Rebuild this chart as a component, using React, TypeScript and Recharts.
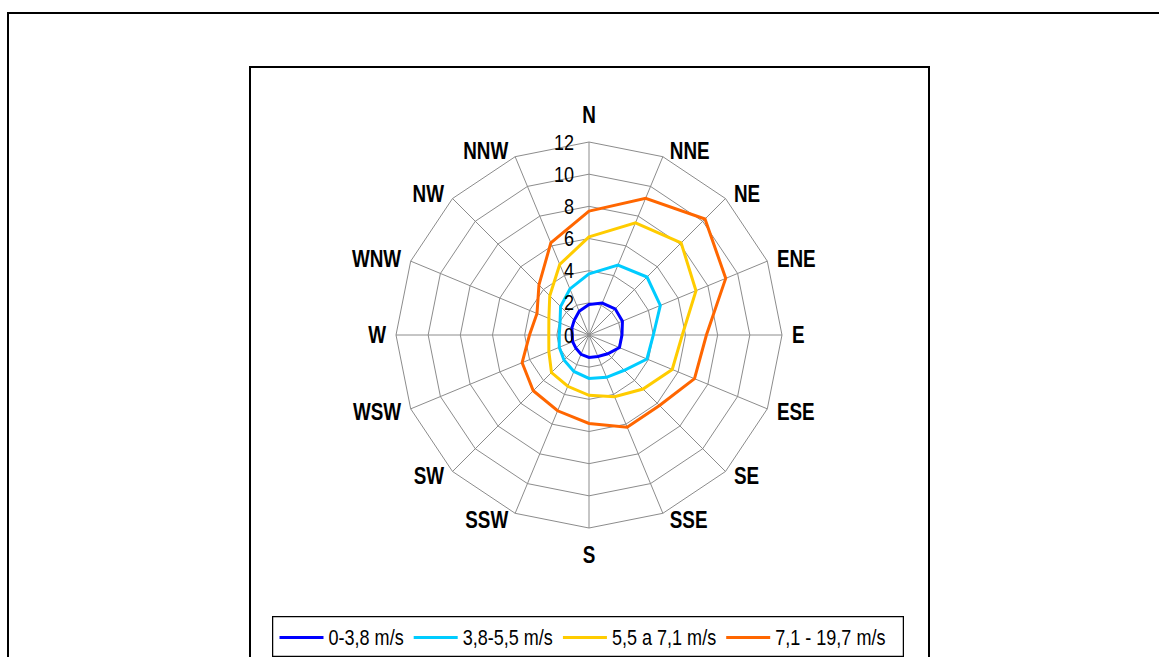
import React from 'react';
import { RadarChart, Radar, PolarGrid, PolarAngleAxis, PolarRadiusAxis, Legend } from 'recharts';

const directions = ['N', 'NNE', 'NE', 'ENE', 'E', 'ESE', 'SE', 'SSE', 'S', 'SSW', 'SW', 'WSW', 'W', 'WNW', 'NW', 'NNW'];
const speed0to38 = [1.9, 2.15, 2.3, 2.25, 2.05, 2.05, 1.65, 1.45, 1.4, 1.3, 1.15, 1.1, 1.05, 1.15, 1.3, 1.6];
const speed38to55 = [3.8, 4.7, 5.1, 4.8, 4.0, 3.9, 3.1, 2.85, 2.7, 2.45, 2.2, 2.0, 1.85, 1.95, 2.5, 3.1];
const speed55to71 = [6.1, 7.55, 8.1, 7.2, 5.8, 5.6, 4.75, 4.15, 3.75, 3.45, 3.3, 2.7, 2.5, 2.7, 3.45, 4.75];
const speed71to197 = [7.7, 9.2, 10.2, 9.2, 7.3, 7.1, 6.2, 6.2, 5.5, 5.1, 4.9, 4.5, 3.7, 3.5, 4.4, 6.2];
const radiusTicks = [0, 2, 4, 6, 8, 10, 12];
const seriesNames = ['0-3,8 m/s', '3,8-5,5 m/s', '5,5 a 7,1 m/s', '7,1 - 19,7 m/s'];
const seriesColors = ['#0000FF', '#00CCFF', '#FFCC00', '#FF6600'];

const data = directions.map((d, i) => ({
  dir: d,
  s1: speed0to38[i],
  s2: speed38to55[i],
  s3: speed55to71[i],
  s4: speed71to197[i],
}));

const FONT = "'Liberation Sans', Arial, sans-serif";
const NARROW = 0.82;
const CX = 589;
const CY = 335;
const R = 193;

let measureCtx: CanvasRenderingContext2D | null = null;
function measureText(text: string, size: number, weight = 'normal') {
  if (!measureCtx) {
    const c = document.createElement('canvas');
    measureCtx = c.getContext('2d');
  }
  if (!measureCtx) return text.length * size * 0.5;
  measureCtx.font = `${weight} ${size}px 'Liberation Sans'`;
  return measureCtx.measureText(text).width;
}

function AngleTick(props: any) {
  const { payload } = props;
  const cx = typeof props.cx === 'number' ? props.cx : CX;
  const cy = typeof props.cy === 'number' ? props.cy : CY;
  const rad = typeof props.radius === 'number' ? props.radius : R;
  const i = directions.indexOf(payload.value);
  const th = (i * Math.PI) / 8;
  const s = Math.sin(th);
  const c = Math.cos(th);
  const vx = cx + rad * s;
  const vy = cy - rad * c;
  let x: number;
  let y: number;
  let anchor: 'start' | 'middle' | 'end';
  if (Math.abs(s) < 0.01) {
    x = vx;
    y = vy - c * 27;
    anchor = 'middle';
  } else {
    x = vx + Math.sign(s) * (5 + 5 * Math.abs(s));
    y = vy - c * 6.5;
    anchor = s > 0 ? 'start' : 'end';
  }
  return (
    <text
      transform={`translate(${x},${y}) scale(${NARROW},1)`}
      x={0}
      y={0}
      textAnchor={anchor}
      dominantBaseline="central"
      fontFamily={FONT}
      fontWeight="bold"
      fontSize={23}
      fill="#000"
    >
      {payload.value}
    </text>
  );
}

function RadiusTick(props: any) {
  const { x, y, payload } = props;
  return (
    <text
      transform={`translate(${x - 15},${y}) scale(${NARROW},1)`}
      x={0}
      y={0}
      textAnchor="end"
      dominantBaseline="central"
      fontFamily={FONT}
      fontSize={22}
      fill="#000"
    >
      {payload.value}
    </text>
  );
}

function LegendContent(props: any) {
  const payload = props.payload || [];
  const W = 632;
  const H = 41;
  const fs = 22;
  const lineLen = 44;
  let x = 7.5;
  const items = payload.map((p: any) => {
    const w = measureText(String(p.value), fs) * NARROW;
    const it = { color: p.color, value: p.value, x, w };
    x += lineLen + 5 + w + 10;
    return it;
  });
  const ly = 21.5;
  return (
    <svg width={W} height={H} style={{ display: 'block' }}>
      <rect x={0.5} y={0.5} width={W - 1} height={H - 1} fill="#fff" stroke="#000" strokeWidth={1.5} />
      {items.map((it: any, i: number) => (
        <g key={i}>
          <line x1={it.x} y1={ly} x2={it.x + lineLen} y2={ly} stroke={it.color} strokeWidth={3} />
          <text
            transform={`translate(${it.x + lineLen + 5},${ly}) scale(${NARROW},1)`}
            x={0}
            y={0}
            dominantBaseline="central"
            fontFamily={FONT}
            fontSize={fs}
            fill="#000"
          >
            {it.value}
          </text>
        </g>
      ))}
    </svg>
  );
}

export default function App() {
  return (
    <div style={{ position: 'fixed', left: 0, top: 0, width: 1159, height: 657, overflow: 'hidden', background: '#fff' }}>
      <div style={{ position: 'absolute', left: 7, top: 12, width: 1300, height: 800, border: '2px solid #000', boxSizing: 'border-box' }} />
      <div style={{ position: 'absolute', left: 249, top: 66, width: 681, height: 800, border: '2px solid #000', boxSizing: 'border-box' }} />
      <div style={{ position: 'absolute', left: 0, top: 0 }}>
        <RadarChart
          width={1159}
          height={657}
          data={data}
          cx={CX}
          cy={CY}
          outerRadius={R}
          margin={{ top: 0, right: 0, bottom: 0, left: 0 }}
        >
          <PolarGrid gridType="polygon" stroke="#8c8c8c" strokeWidth={1} />
          <PolarAngleAxis dataKey="dir" tick={<AngleTick />} tickLine={false} axisLine={false} />
          <PolarRadiusAxis
            angle={90}
            type="number"
            domain={[0, 12]}
            ticks={radiusTicks as any}
            tickCount={7}
            axisLine={false}
            tick={<RadiusTick />}
          />
          <Radar name={seriesNames[0]} dataKey="s1" stroke={seriesColors[0]} strokeWidth={3} fill="none" fillOpacity={0} dot={false} isAnimationActive={false} />
          <Radar name={seriesNames[1]} dataKey="s2" stroke={seriesColors[1]} strokeWidth={3} fill="none" fillOpacity={0} dot={false} isAnimationActive={false} />
          <Radar name={seriesNames[2]} dataKey="s3" stroke={seriesColors[2]} strokeWidth={3} fill="none" fillOpacity={0} dot={false} isAnimationActive={false} />
          <Radar name={seriesNames[3]} dataKey="s4" stroke={seriesColors[3]} strokeWidth={3} fill="none" fillOpacity={0} dot={false} isAnimationActive={false} />
          <Legend
            content={<LegendContent />}
            wrapperStyle={{ position: 'absolute', left: 272, top: 616, width: 632, height: 41, bottom: 'auto', right: 'auto' }}
          />
        </RadarChart>
      </div>
    </div>
  );
}
